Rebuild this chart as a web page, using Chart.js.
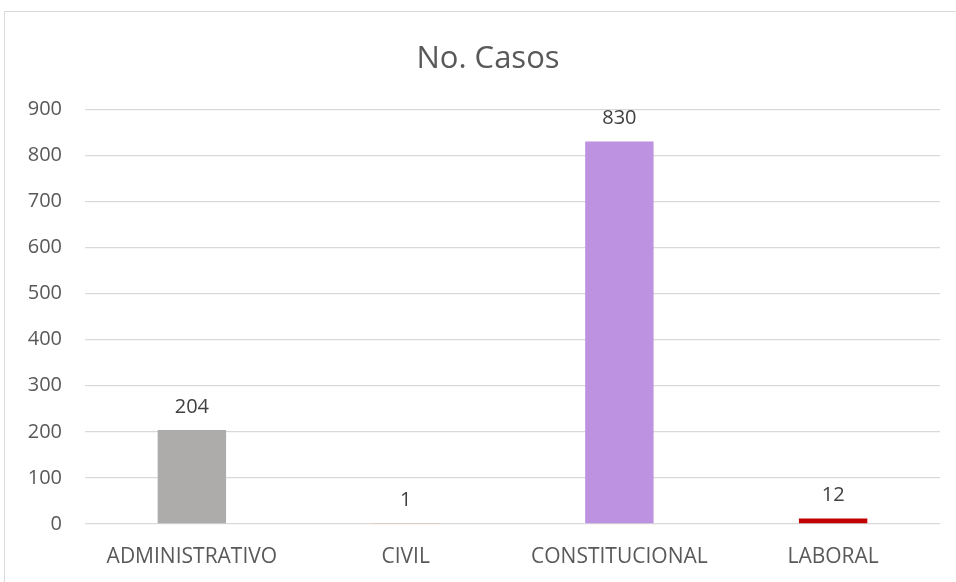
<!DOCTYPE html>
<html>
<head>
<meta charset="utf-8">
<script src="https://cdn.jsdelivr.net/npm/chart.js@4"></script>
<style>
html,body{margin:0;padding:0;background:#fff;overflow:hidden;}
#frame{position:absolute;left:4px;top:11px;width:970px;height:600px;border:1px solid #D9D9D9;box-sizing:border-box;}
#wrap{position:absolute;left:0;top:0;width:956px;height:582px;}
</style>
</head>
<body>
<div id="frame"></div>
<div id="wrap"><canvas id="c" width="956" height="582"></canvas></div>
<script>
const categories = ["ADMINISTRATIVO", "CIVIL", "CONSTITUCIONAL", "LABORAL"];
const casos = [204, 1, 830, 12];
const barColors = ["#AEABAB", "#F4B183", "#BD92E0", "#C00000"];
const yTicks = [0, 100, 200, 300, 400, 500, 600, 700, 800, 900];
const chartTitle = "No. Casos";

const FONT = "'Open Sans', 'Noto Sans', sans-serif";
const TXT = "#595959";

const valueLabels = {
  id: 'valueLabels',
  afterDatasetsDraw(chart) {
    const ctx = chart.ctx;
    const meta = chart.getDatasetMeta(0);
    ctx.save();
    ctx.font = "20px " + FONT;
    ctx.fillStyle = "#404040";
    ctx.textAlign = "center";
    ctx.textBaseline = "middle";
    meta.data.forEach((el, i) => {
      ctx.fillText(String(chart.data.datasets[0].data[i]), el.x, el.y - 23);
    });
    ctx.restore();
  }
};

new Chart(document.getElementById('c'), {
  type: 'bar',
  data: {
    labels: categories,
    datasets: [{
      data: casos,
      backgroundColor: barColors,
      borderWidth: 0,
      categoryPercentage: 1,
      barPercentage: 0.32
    }]
  },
  options: {
    responsive: false,
    animation: false,
    layout: { padding: { left: 20, right: 0, top: 0, bottom: 0 } },
    plugins: {
      legend: { display: false },
      tooltip: { enabled: false },
      title: {
        display: true,
        text: chartTitle,
        color: TXT,
        font: { family: FONT, size: 31, weight: 'normal', lineHeight: 1.2 },
        padding: { top: 41, bottom: 31 }
      }
    },
    scales: {
      x: {
        grid: { display: false },
        border: { display: false },
        ticks: { color: TXT, font: { family: FONT, size: 21 }, padding: 12, maxRotation: 0 },
        afterFit(s) { s.height = 58; }
      },
      y: {
        min: 0, max: 900,
        afterBuildTicks(s) { s.ticks = yTicks.map(v => ({ value: v })); },
        grid: { color: "#D9D9D9", lineWidth: 1.3, drawTicks: false },
        border: { display: false },
        ticks: { color: TXT, font: { family: FONT, size: 20 }, padding: 23 },
        afterFit(s) { s.width = 65; }
      },
      yRight: {
        position: 'right',
        min: 0, max: 900,
        grid: { display: false },
        border: { display: false },
        ticks: { display: false },
        afterFit(s) { s.width = 16; }
      }
    }
  },
  plugins: [valueLabels]
});
</script>
</body>
</html>
